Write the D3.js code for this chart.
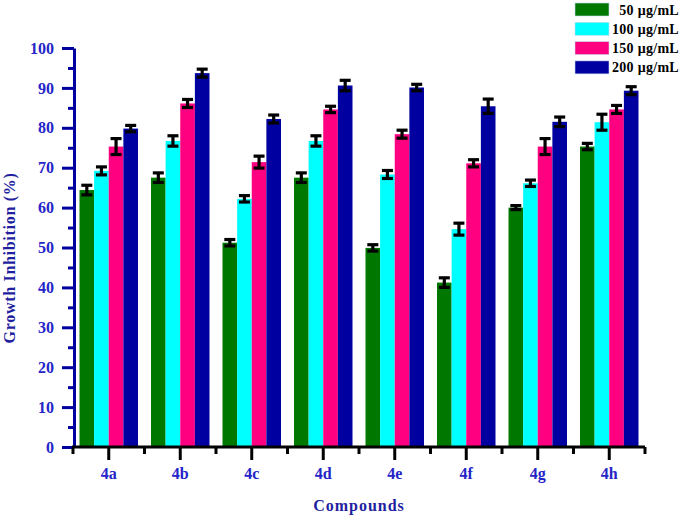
<!DOCTYPE html>
<html>
<head>
<meta charset="utf-8">
<script src="https://cdn.jsdelivr.net/npm/d3@7"></script>
<style>
  body { margin: 0; background: #fff; }
  text { font-family: "Liberation Serif", "Times New Roman", serif; font-weight: bold; }
</style>
</head>
<body>
<div id="chart"></div>
<script>
// Chart data
const categories = ["4a", "4b", "4c", "4d", "4e", "4f", "4g", "4h"];
const seriesNames = ["50 \u03bcg/mL", "100 \u03bcg/mL", "150 \u03bcg/mL", "200 \u03bcg/mL"];
const seriesColors = ["#007800", "#00ffff", "#ff0080", "#0000a0"];
const values50 = [64.4, 67.5, 51.2, 67.5, 49.9, 41.2, 60.0, 75.3];
const values100 = [69.2, 76.7, 62.2, 76.7, 68.3, 54.6, 66.1, 81.4];
const values150 = [75.3, 86.1, 71.4, 84.6, 78.4, 71.1, 75.3, 84.6];
const values200 = [79.8, 93.7, 82.2, 90.6, 90.1, 85.4, 81.5, 89.3];
const errors50 = [1.2, 1.2, 0.8, 1.2, 0.8, 1.2, 0.5, 0.8];
const errors100 = [1.0, 1.3, 0.8, 1.3, 1.0, 1.5, 0.8, 2.0];
const errors150 = [2.0, 1.0, 1.5, 0.8, 1.0, 0.9, 2.0, 1.0];
const errors200 = [0.8, 1.0, 1.0, 1.3, 0.8, 1.8, 1.2, 1.0];
const yMajorTicks = [0, 10, 20, 30, 40, 50, 60, 70, 80, 90, 100];
const yMinorTicks = [5, 15, 25, 35, 45, 55, 65, 75, 85, 95];

const allValues = [values50, values100, values150, values200];
const allErrors = [errors50, errors100, errors150, errors200];

const width = 685, height = 518;
const svg = d3.select("#chart").append("svg").attr("width", width).attr("height", height);

const x0 = d3.scaleBand().domain(categories).range([73, 645]).padding(0);
const x1 = d3.scaleBand().domain(seriesNames).range([6.5, x0.bandwidth() - 6.5]).padding(0);
const y = d3.scaleLinear().domain([0, 100]).range([447, 48]);

// Build one flat list of bars from the series arrays
const bars = [];
categories.forEach((cat, i) => {
	seriesNames.forEach((name, j) => {
		bars.push({ cat: cat, series: name, color: seriesColors[j], value: allValues[j][i], err: allErrors[j][i] });
	});
});

svg.append("g").selectAll("rect")
	.data(bars)
	.enter()
	.append("rect")
		.attr("x", d => x0(d.cat) + x1(d.series))
		.attr("y", d => y(d.value))
		.attr("width", x1.bandwidth())
		.attr("height", d => y(0) - y(d.value))
		.attr("fill", d => d.color);

// Error bars
const errG = svg.append("g").attr("stroke", "#000").attr("stroke-width", 3.2);
bars.forEach(d => {
	const cx = x0(d.cat) + x1(d.series) + x1.bandwidth() / 2;
	errG.append("line").attr("x1", cx).attr("x2", cx).attr("y1", y(d.value + d.err)).attr("y2", y(d.value - d.err));
	errG.append("line").attr("x1", cx - 5.5).attr("x2", cx + 5.5).attr("y1", y(d.value + d.err)).attr("y2", y(d.value + d.err));
	errG.append("line").attr("x1", cx - 5.5).attr("x2", cx + 5.5).attr("y1", y(d.value - d.err)).attr("y2", y(d.value - d.err));
});

// Y axis, major and minor ticks
const yAxisG = svg.append("g").attr("transform", "translate(74, 0)")
	.call(d3.axisLeft(y).tickValues(yMajorTicks).tickSize(12).tickSizeOuter(0).tickPadding(8));
svg.append("g").attr("transform", "translate(74, 0)")
	.call(d3.axisLeft(y).tickValues(yMinorTicks).tickSize(6).tickSizeOuter(0).tickFormat(""))
	.select(".domain").remove();
svg.selectAll("g").filter(function() { return this.parentNode === svg.node(); });
yAxisG.select(".domain").attr("stroke", "#0000a0").attr("stroke-width", 3);
svg.selectAll("g line").filter(function() { return this.parentNode.classList.contains("tick"); })
	.attr("stroke", "#0000a0").attr("stroke-width", 3);
yAxisG.selectAll("text")
	.attr("fill", "#2424c8").style("font-size", "16px")
	.style("font-family", "'Liberation Serif', serif").style("font-weight", "bold");

// X axis with major ticks at categories and minor ticks at band edges
const xAxisG = svg.append("g").attr("transform", "translate(0, 447)")
	.call(d3.axisBottom(x0).tickSize(13).tickSizeOuter(0).tickPadding(8));
xAxisG.select(".domain").attr("stroke", "#000").attr("stroke-width", 3).attr("d", `M${x0.range()[0] - 1},0H${x0.range()[1]}`);
xAxisG.selectAll(".tick line").attr("stroke", "#000").attr("stroke-width", 3);
xAxisG.selectAll("text")
	.attr("fill", "#2424c8").style("font-size", "16px")
	.style("font-family", "'Liberation Serif', serif").style("font-weight", "bold");
const edges = categories.map(c => x0(c)).concat([x0.range()[1]]);
xAxisG.selectAll(".minor").data(edges).enter().append("line")
	.attr("class", "minor")
	.attr("x1", d => d).attr("x2", d => d).attr("y1", 0).attr("y2", 7)
	.attr("stroke", "#000").attr("stroke-width", 3);

// Axis titles
svg.append("text")
	.attr("transform", `translate(15, 258) rotate(-90)`)
	.attr("text-anchor", "middle")
	.attr("fill", "#1f1fa0")
	.style("font-size", "16px").style("letter-spacing", "0.7px")
	.text("Growth Inhibition (%)");
svg.append("text")
	.attr("x", (x0.range()[0] + x0.range()[1]) / 2).attr("y", 511)
	.attr("text-anchor", "middle")
	.attr("fill", "#1f1fa0")
	.style("font-size", "16px").style("letter-spacing", "1px")
	.text("Compounds");

// Legend
const legend = svg.append("g");
seriesNames.forEach((name, j) => {
	const ly = 3 + j * 19.3;
	legend.append("rect").attr("x", 575).attr("y", ly).attr("width", 34).attr("height", 13)
		.attr("fill", seriesColors[j]).attr("stroke", "#c8d8f0").attr("stroke-width", 0.6);
	legend.append("text").attr("x", 679).attr("y", ly + 11.5)
		.attr("text-anchor", "end").attr("fill", "#000")
		.style("font-size", "14px").style("letter-spacing", "0.3px")
		.text(name);
});
</script>
</body>
</html>
